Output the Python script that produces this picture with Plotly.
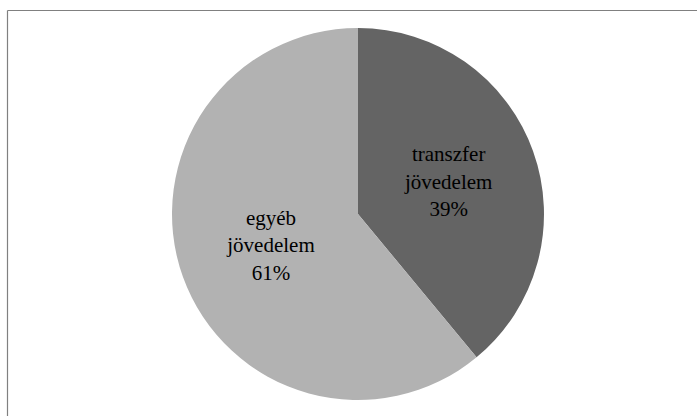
import plotly.graph_objects as go

labels = ["transzfer<br>jövedelem", "egyéb<br>jövedelem"]
values = [39, 61]
colors = ["#646464", "#b2b2b2"]

W, H = 697, 416
cx, cy, r = 358, 214, 186

fig = go.Figure(
    go.Pie(
        labels=labels,
        values=values,
        sort=False,
        direction="clockwise",
        rotation=0,
        marker=dict(colors=colors, line=dict(width=0)),
        texttemplate="%{label}<br>%{percent:.0%}",
        textposition="inside",
        insidetextorientation="horizontal",
        textfont=dict(family="Liberation Serif", size=21, color="black"),
        hoverinfo="label+percent",
        showlegend=False,
        domain=dict(
            x=[(cx - r) / W, (cx + r) / W],
            y=[1 - (cy + r) / H, 1 - (cy - r) / H],
        ),
    )
)

# chart frame (only top and left edges visible in the original)
fig.add_shape(type="line", xref="paper", yref="paper",
              x0=7.5 / W, x1=1.01, y0=1 - 10.5 / H, y1=1 - 10.5 / H,
              line=dict(color="#808080", width=1.2))
fig.add_shape(type="line", xref="paper", yref="paper",
              x0=7.5 / W, x1=7.5 / W, y0=-0.01, y1=1 - 10.5 / H,
              line=dict(color="#808080", width=1.2))

fig.update_layout(
    width=W,
    height=H,
    margin=dict(l=0, r=0, t=0, b=0),
    paper_bgcolor="white",
    plot_bgcolor="white",
)

fig.write_html(
    "out.html",
    config={"displayModeBar": False},
    post_script="document.body.style.margin='0';",
)
